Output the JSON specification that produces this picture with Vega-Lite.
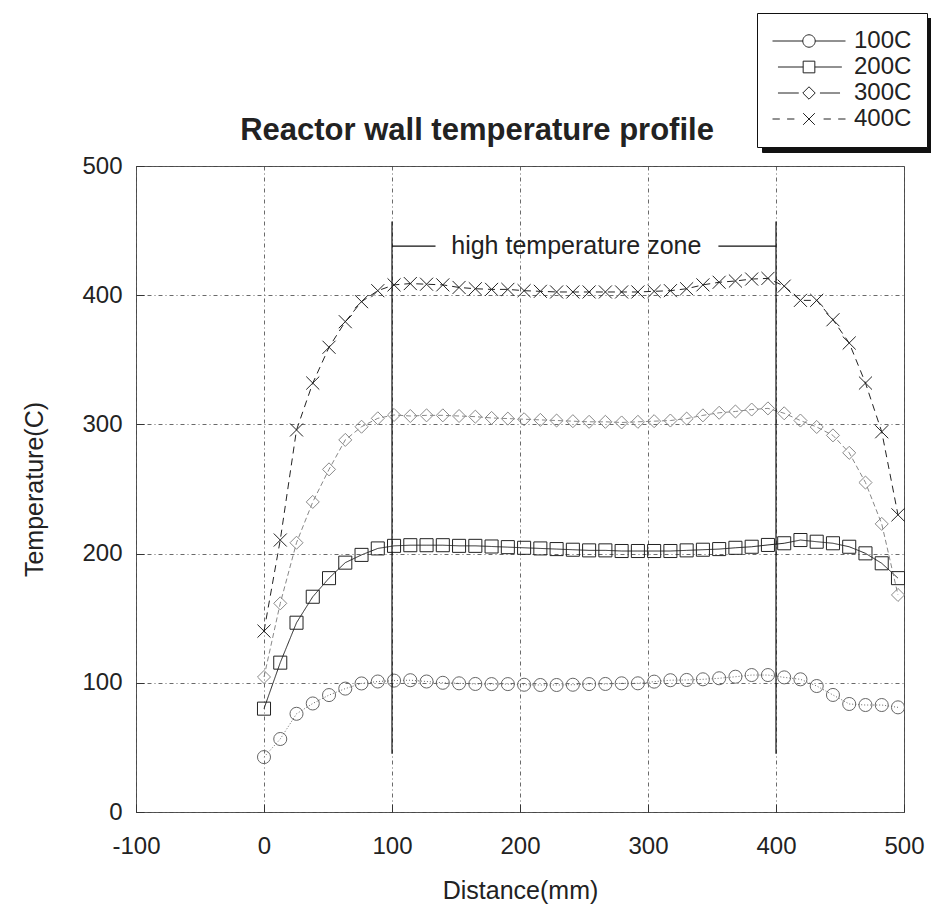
{
  "$schema": "https://vega.github.io/schema/vega-lite/v6.json",
  "width": 768,
  "height": 646,
  "autosize": {"type": "none"},
  "padding": {"left": 136, "top": 166, "right": 27, "bottom": 109},
  "background": "white",
  "config": {
    "font": "Liberation Sans",
    "view": {"stroke": "#555", "strokeWidth": 1},
    "axis": {
      "domain": false,
      "grid": true,
      "gridColor": "#444",
      "gridDash": [4, 3, 1, 3],
      "gridWidth": 0.8,
      "ticks": true,
      "tickColor": "#333",
      "tickSize": -8,
      "labelFontSize": 24,
      "labelColor": "#222",
      "labelFont": "Liberation Sans",
      "labelFlush": false,
      "labelOverlap": false,
      "titleFontSize": 25,
      "titleFontWeight": "normal",
      "titleColor": "#222",
      "titleFont": "Liberation Sans"
    }
  },
  "title": {
    "text": "Reactor wall temperature profile",
    "fontSize": 31,
    "fontWeight": "bold",
    "font": "Liberation Sans",
    "color": "#222",
    "dx": -43,
    "offset": 0,
    "dy": 158,
    "baseline": "alphabetic"
  },
  "datasets": {
    "temps": [
      {"d": 0, "s": "100C", "t": 42.5}, {"d": 12.7, "s": "100C", "t": 56.5}, {"d": 25.4, "s": "100C", "t": 76}, {"d": 38.1, "s": "100C", "t": 84},
      {"d": 50.8, "s": "100C", "t": 90.5}, {"d": 63.5, "s": "100C", "t": 95.5}, {"d": 76.2, "s": "100C", "t": 99.5}, {"d": 88.9, "s": "100C", "t": 101},
      {"d": 101.6, "s": "100C", "t": 101.7}, {"d": 114.3, "s": "100C", "t": 102}, {"d": 127, "s": "100C", "t": 101}, {"d": 139.7, "s": "100C", "t": 100},
      {"d": 152.4, "s": "100C", "t": 99.6}, {"d": 165.1, "s": "100C", "t": 99.1}, {"d": 177.8, "s": "100C", "t": 99}, {"d": 190.5, "s": "100C", "t": 99},
      {"d": 203.2, "s": "100C", "t": 98.5}, {"d": 215.9, "s": "100C", "t": 98.3}, {"d": 228.6, "s": "100C", "t": 98.3}, {"d": 241.3, "s": "100C", "t": 98.5},
      {"d": 254, "s": "100C", "t": 99}, {"d": 266.7, "s": "100C", "t": 99.1}, {"d": 279.4, "s": "100C", "t": 99.6}, {"d": 292.1, "s": "100C", "t": 99.6},
      {"d": 304.8, "s": "100C", "t": 100.9}, {"d": 317.5, "s": "100C", "t": 102}, {"d": 330.2, "s": "100C", "t": 102.2}, {"d": 342.9, "s": "100C", "t": 102.7},
      {"d": 355.6, "s": "100C", "t": 103.5}, {"d": 368.3, "s": "100C", "t": 104.7}, {"d": 381, "s": "100C", "t": 106}, {"d": 393.7, "s": "100C", "t": 106},
      {"d": 406.4, "s": "100C", "t": 104.2}, {"d": 419.1, "s": "100C", "t": 102.7}, {"d": 431.8, "s": "100C", "t": 97.5}, {"d": 444.5, "s": "100C", "t": 90.6},
      {"d": 457.2, "s": "100C", "t": 83.6}, {"d": 469.9, "s": "100C", "t": 82.8}, {"d": 482.6, "s": "100C", "t": 82.8}, {"d": 495.3, "s": "100C", "t": 81},

      {"d": 0, "s": "200C", "t": 80}, {"d": 12.7, "s": "200C", "t": 115.6}, {"d": 25.4, "s": "200C", "t": 146.5}, {"d": 38.1, "s": "200C", "t": 166.6},
      {"d": 50.8, "s": "200C", "t": 181}, {"d": 63.5, "s": "200C", "t": 193}, {"d": 76.2, "s": "200C", "t": 199}, {"d": 88.9, "s": "200C", "t": 204},
      {"d": 101.6, "s": "200C", "t": 206}, {"d": 114.3, "s": "200C", "t": 206.5}, {"d": 127, "s": "200C", "t": 206.5}, {"d": 139.7, "s": "200C", "t": 206.5},
      {"d": 152.4, "s": "200C", "t": 206}, {"d": 165.1, "s": "200C", "t": 206}, {"d": 177.8, "s": "200C", "t": 205.5}, {"d": 190.5, "s": "200C", "t": 205},
      {"d": 203.2, "s": "200C", "t": 204.5}, {"d": 215.9, "s": "200C", "t": 204}, {"d": 228.6, "s": "200C", "t": 203.5}, {"d": 241.3, "s": "200C", "t": 203},
      {"d": 254, "s": "200C", "t": 202.5}, {"d": 266.7, "s": "200C", "t": 202.5}, {"d": 279.4, "s": "200C", "t": 202}, {"d": 292.1, "s": "200C", "t": 202},
      {"d": 304.8, "s": "200C", "t": 202}, {"d": 317.5, "s": "200C", "t": 202}, {"d": 330.2, "s": "200C", "t": 202.5}, {"d": 342.9, "s": "200C", "t": 203},
      {"d": 355.6, "s": "200C", "t": 203.5}, {"d": 368.3, "s": "200C", "t": 204.5}, {"d": 381, "s": "200C", "t": 205.3}, {"d": 393.7, "s": "200C", "t": 206.7},
      {"d": 406.4, "s": "200C", "t": 208}, {"d": 419.1, "s": "200C", "t": 210.5}, {"d": 431.8, "s": "200C", "t": 209.2}, {"d": 444.5, "s": "200C", "t": 208},
      {"d": 457.2, "s": "200C", "t": 205.3}, {"d": 469.9, "s": "200C", "t": 200.2}, {"d": 482.6, "s": "200C", "t": 192.5}, {"d": 495.3, "s": "200C", "t": 181},

      {"d": 0, "s": "300C", "t": 104.5}, {"d": 12.7, "s": "300C", "t": 161.5}, {"d": 25.4, "s": "300C", "t": 208.4}, {"d": 38.1, "s": "300C", "t": 240},
      {"d": 50.8, "s": "300C", "t": 265.2}, {"d": 63.5, "s": "300C", "t": 288}, {"d": 76.2, "s": "300C", "t": 298.2}, {"d": 88.9, "s": "300C", "t": 304.7},
      {"d": 101.6, "s": "300C", "t": 307.3}, {"d": 114.3, "s": "300C", "t": 306.5}, {"d": 127, "s": "300C", "t": 307}, {"d": 139.7, "s": "300C", "t": 307},
      {"d": 152.4, "s": "300C", "t": 306.5}, {"d": 165.1, "s": "300C", "t": 306}, {"d": 177.8, "s": "300C", "t": 305}, {"d": 190.5, "s": "300C", "t": 304.5},
      {"d": 203.2, "s": "300C", "t": 304}, {"d": 215.9, "s": "300C", "t": 303.5}, {"d": 228.6, "s": "300C", "t": 303}, {"d": 241.3, "s": "300C", "t": 302.5},
      {"d": 254, "s": "300C", "t": 302}, {"d": 266.7, "s": "300C", "t": 302}, {"d": 279.4, "s": "300C", "t": 301.5}, {"d": 292.1, "s": "300C", "t": 302},
      {"d": 304.8, "s": "300C", "t": 302.5}, {"d": 317.5, "s": "300C", "t": 303}, {"d": 330.2, "s": "300C", "t": 304.5}, {"d": 342.9, "s": "300C", "t": 307},
      {"d": 355.6, "s": "300C", "t": 309}, {"d": 368.3, "s": "300C", "t": 310}, {"d": 381, "s": "300C", "t": 311.5}, {"d": 393.7, "s": "300C", "t": 312.4},
      {"d": 406.4, "s": "300C", "t": 308.6}, {"d": 419.1, "s": "300C", "t": 303}, {"d": 431.8, "s": "300C", "t": 298}, {"d": 444.5, "s": "300C", "t": 291.5},
      {"d": 457.2, "s": "300C", "t": 278}, {"d": 469.9, "s": "300C", "t": 255}, {"d": 482.6, "s": "300C", "t": 223}, {"d": 495.3, "s": "300C", "t": 168},

      {"d": 0, "s": "400C", "t": 140}, {"d": 12.7, "s": "400C", "t": 210.5}, {"d": 25.4, "s": "400C", "t": 295.7}, {"d": 38.1, "s": "400C", "t": 332},
      {"d": 50.8, "s": "400C", "t": 359.7}, {"d": 63.5, "s": "400C", "t": 379.5}, {"d": 76.2, "s": "400C", "t": 395}, {"d": 88.9, "s": "400C", "t": 403.5},
      {"d": 101.6, "s": "400C", "t": 408}, {"d": 114.3, "s": "400C", "t": 409}, {"d": 127, "s": "400C", "t": 408.5}, {"d": 139.7, "s": "400C", "t": 408},
      {"d": 152.4, "s": "400C", "t": 406}, {"d": 165.1, "s": "400C", "t": 405}, {"d": 177.8, "s": "400C", "t": 404.5}, {"d": 190.5, "s": "400C", "t": 404.5},
      {"d": 203.2, "s": "400C", "t": 403.5}, {"d": 215.9, "s": "400C", "t": 403}, {"d": 228.6, "s": "400C", "t": 402.5}, {"d": 241.3, "s": "400C", "t": 402.5},
      {"d": 254, "s": "400C", "t": 402.5}, {"d": 266.7, "s": "400C", "t": 402.5}, {"d": 279.4, "s": "400C", "t": 402.5}, {"d": 292.1, "s": "400C", "t": 402.5},
      {"d": 304.8, "s": "400C", "t": 403}, {"d": 317.5, "s": "400C", "t": 403.5}, {"d": 330.2, "s": "400C", "t": 405}, {"d": 342.9, "s": "400C", "t": 408},
      {"d": 355.6, "s": "400C", "t": 410}, {"d": 368.3, "s": "400C", "t": 411}, {"d": 381, "s": "400C", "t": 412.5}, {"d": 393.7, "s": "400C", "t": 413},
      {"d": 406.4, "s": "400C", "t": 407}, {"d": 419.1, "s": "400C", "t": 396}, {"d": 431.8, "s": "400C", "t": 396}, {"d": 444.5, "s": "400C", "t": 381},
      {"d": 457.2, "s": "400C", "t": 363}, {"d": 469.9, "s": "400C", "t": 332}, {"d": 482.6, "s": "400C", "t": 294.3}, {"d": 495.3, "s": "400C", "t": 230}
    ],
    "vrules": [
      {"d": 100, "t": 45, "t2": 457},
      {"d": 400, "t": 45, "t2": 457}
    ],
    "hsegs": [
      {"d": 100, "d2": 134, "t": 438},
      {"d": 355, "d2": 400, "t": 438}
    ],
    "notes": [
      {"d": 244, "t": 438, "txt": "high temperature zone"}
    ]
  },
  "encoding": {
    "x": {
      "field": "d",
      "type": "quantitative",
      "scale": {"domain": [-100, 500], "nice": false, "zero": false},
      "axis": {
        "title": "Distance(mm)",
        "values": [-100, 0, 100, 200, 300, 400, 500],
        "labelExpr": "'' + datum.value",
        "labelPadding": 30,
        "titlePadding": 20
      }
    },
    "y": {
      "field": "t",
      "type": "quantitative",
      "scale": {"domain": [0, 500], "nice": false},
      "axis": {
        "title": "Temperature(C)",
        "values": [0, 100, 200, 300, 400, 500],
        "labelPadding": 22,
        "titlePadding": 34
      }
    }
  },
  "layer": [
    {
      "data": {"name": "temps"},
      "mark": {"type": "line", "strokeWidth": 1},
      "encoding": {
        "color": {
          "field": "s", "type": "nominal",
          "scale": {"domain": ["100C", "200C", "300C", "400C"], "range": ["#666666", "#222222", "#888888", "#222222"]},
          "legend": null
        },
        "strokeDash": {
          "field": "s", "type": "nominal",
          "scale": {"domain": ["100C", "200C", "300C", "400C"], "range": [[1, 2], [1, 0], [5, 3], [7, 5]]},
          "legend": null
        }
      }
    },
    {
      "data": {"name": "temps"},
      "mark": {"type": "point", "filled": false, "size": 170, "strokeWidth": 1, "opacity": 1},
      "encoding": {
        "color": {
          "field": "s", "type": "nominal",
          "scale": {"domain": ["100C", "200C", "300C", "400C"], "range": ["#666666", "#222222", "#888888", "#222222"]},
          "legend": null
        },
        "shape": {
          "field": "s", "type": "nominal",
          "scale": {"domain": ["100C", "200C", "300C", "400C"], "range": ["circle", "square", "diamond", "M-1,-1L1,1M-1,1L1,-1"]},
          "legend": null
        }
      }
    },
    {
      "data": {"name": "temps"},
      "mark": {"type": "point", "filled": true, "size": 5329, "opacity": 0},
      "encoding": {
        "fill": {
          "field": "s", "type": "nominal",
          "scale": {"domain": ["400C", "300C", "200C", "100C"], "range": ["#111", "#111", "#111", "#111"]},
          "legend": {
            "title": null,
            "orient": "none",
            "legendX": 626,
            "legendY": -148,
            "padding": 15,
            "symbolSize": 5329,
            "clipHeight": 26,
            "rowPadding": 0,
            "labelFontSize": 24,
            "labelOffset": 65,
            "labelExpr": "''",
            "labelColor": "#111",
            "labelFont": "Liberation Sans",
            "fillColor": "#111",
            "strokeColor": "#111",
            "encode": {
              "symbols": {"update": {"opacity": {"value": 0}}}
            }
          }
        }
      }
    },
    {
      "data": {"name": "temps"},
      "mark": {"type": "point", "filled": false, "size": 5329, "opacity": 0},
      "encoding": {
        "shape": {
          "field": "s", "type": "nominal",
          "scale": {
            "domain": ["100C", "200C", "300C", "400C"],
            "range": [
              "M-1,0L-0.17,0M0.17,0L1,0M0.17,0A0.17,0.17,0,1,1,-0.17,0A0.17,0.17,0,1,1,0.17,0",
              "M-0.85,0L-0.16,0M0.16,0L0.9,0M-0.16,-0.16L0.16,-0.16L0.16,0.16L-0.16,0.16Z",
              "M-0.85,0L-0.28,0M0.3,0L0.85,0M0,-0.17L0.17,0L0,0.17L-0.17,0Z",
              "M-1,0L-0.8,0M-0.6,0L-0.4,0M0.4,0L0.6,0M0.8,0L1,0M-0.16,-0.16L0.16,0.16M-0.16,0.16L0.16,-0.16"
            ]
          },
          "legend": {
            "title": null,
            "orient": "none",
            "legendX": 621,
            "legendY": -153,
            "padding": 15,
            "symbolSize": 5329,
            "clipHeight": 26,
            "rowPadding": 0,
            "labelFontSize": 24,
            "labelOffset": 8,
            "labelColor": "#222",
            "labelFont": "Liberation Sans",
            "symbolOpacity": 1,
            "symbolStrokeColor": "#222",
            "symbolFillColor": "transparent",
            "symbolStrokeWidth": 1,
            "fillColor": "white",
            "strokeColor": "#111",
            "encode": {
              "legend": {"update": {"strokeWidth": {"value": 2}}},
              "symbols": {
                "update": {
                  "opacity": {"value": 1},
                  "fill": {"value": "transparent"},
                  "stroke": {"signal": "datum.value == '100C' || datum.value == '300C' ? '#555' : '#222'"},
                  "strokeDash": {"signal": "datum.value == '100C' ? [1, 1.5] : datum.value == '300C' ? [3, 2] : [1, 0]"}
                }
              }
            }
          }
        }
      }
    },
    {
      "data": {"name": "vrules"},
      "mark": {"type": "rule", "color": "#111", "strokeWidth": 1.2},
      "encoding": {"y2": {"field": "t2"}}
    },
    {
      "data": {"name": "hsegs"},
      "mark": {"type": "rule", "color": "#111", "strokeWidth": 1.2},
      "encoding": {"x2": {"field": "d2"}}
    },
    {
      "data": {"name": "notes"},
      "mark": {"type": "text", "fontSize": 25, "font": "Liberation Sans", "color": "#222", "align": "center", "baseline": "middle"},
      "encoding": {"text": {"field": "txt"}}
    }
  ],
  "resolve": {"scale": {"shape": "independent"}}
}
